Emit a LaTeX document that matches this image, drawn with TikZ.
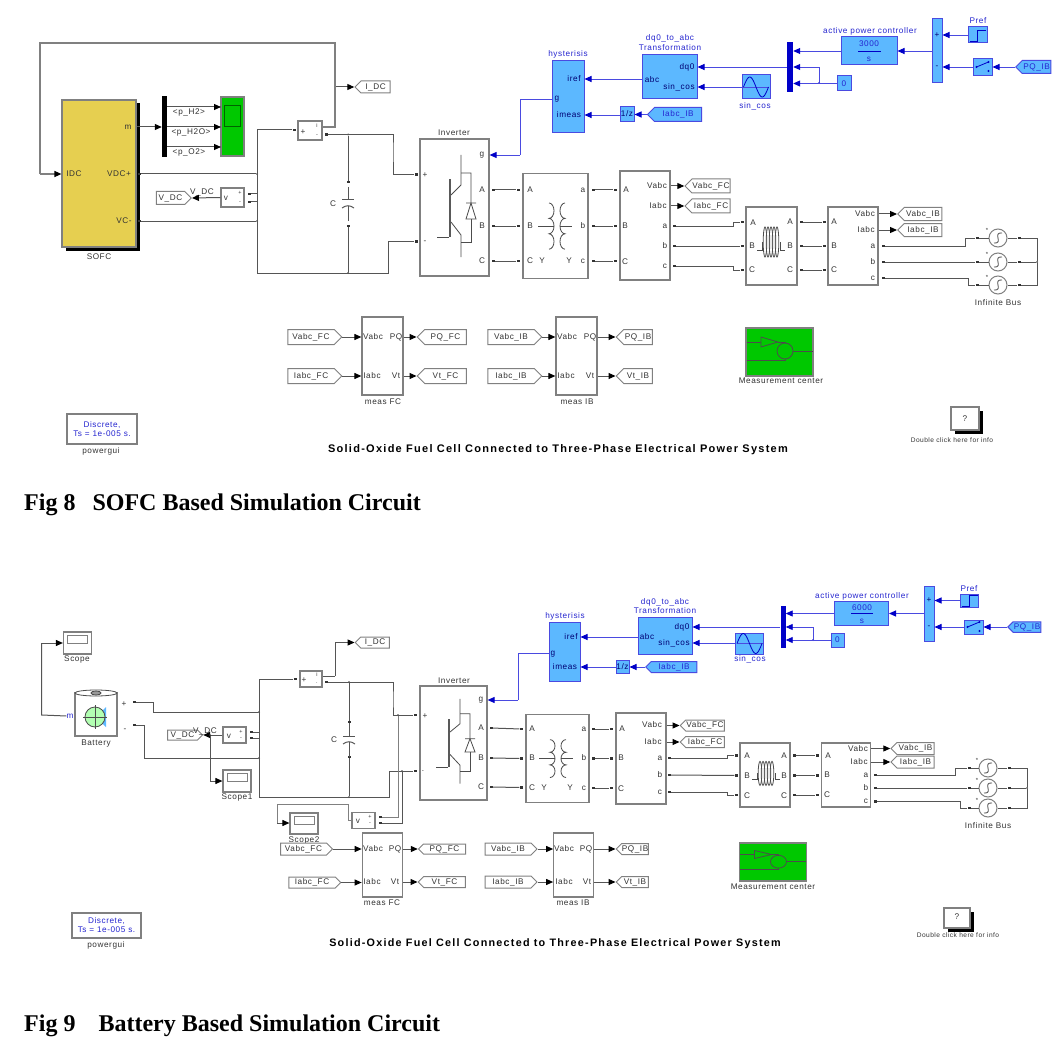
\documentclass[tikz,border=0pt]{standalone}
\usepackage{fontspec}
\newfontfamily\blockfont[LetterSpace=7]{Liberation Sans}
\newfontfamily\titlefont[LetterSpace=11.5]{Liberation Sans}
\newfontfamily\capfont{Liberation Serif}
\usetikzlibrary{arrows.meta,shapes.symbols,shadows}
\definecolor{wiregray}{HTML}{555555}
\definecolor{edgegray}{HTML}{808080}
\definecolor{simblue}{HTML}{5CB8FF}
\definecolor{blueline}{HTML}{4A4AE0}
\definecolor{bluetip}{HTML}{0000C8}
\definecolor{sofcyellow}{HTML}{E6CF50}
\definecolor{simgreen}{HTML}{00C800}
\tikzset{
	wh/.style 2 args={minimum width=#1pt,minimum height=#2pt,inner sep=0pt},
	lab/.style={font=\blockfont\fontsize{8.2}{9}\selectfont,inner sep=0pt,text=black!80},
	signlab/.style={lab,font=\blockfont\fontsize{5.5}{5.5}\selectfont},
	bluelab/.style={lab,text=bluetip!85},
	inlab/.style={lab,text=blue!45!black},
	block/.style={draw=edgegray,fill=white,line width=1.2pt},
	blueblock/.style={draw=blueline,fill=simblue,line width=1pt},
	shadowed/.style={drop shadow={shadow xshift=3.5pt,shadow yshift=-3.5pt,fill=black,opacity=1}},
	wire/.style={draw=wiregray,line width=1pt},
	icon/.style={draw=black!70,line width=0.8pt},
	sig/.style={wire,-{Triangle[length=7pt,width=6pt,color=black]}},
	bluewire/.style={draw=blueline,line width=0.9pt},
	bluesig/.style={bluewire,-{Triangle[length=7pt,width=6pt,color=bluetip]}},
	port/.style={fill=black!80,minimum width=3pt,minimum height=2.4pt,inner sep=0pt},
	dot/.style={circle,fill=black!80,minimum size=2pt,inner sep=0pt},
	tagl/.style={lab,signal,signal to=west,draw=edgegray,fill=white,line width=1pt},
	tagr/.style={lab,signal,signal to=east,draw=edgegray,fill=white,line width=1pt},
	bluetag/.style={bluelab,signal,signal to=west,draw=blueline,fill=simblue,line width=1pt},
	srcnode/.style={circle,draw=edgegray,fill=white,line width=1pt,minimum size=18pt,inner sep=0pt},
	notelab/.style={lab,font=\blockfont\fontsize{6.6}{8}\selectfont},
	titlelab/.style={lab,text=black,font=\titlefont\bfseries\fontsize{#1}{#1}\selectfont},
	captionlab/.style={anchor=west,inner sep=0pt,font=\capfont\bfseries\fontsize{24}{24}\selectfont},
}
\newcommand{\invicon}[2]{\begin{scope}[shift={(#1)},yscale=#2]
	\draw[icon] (7,-52) -- (7,-22) -- (-3,-12);
	\draw[icon] (-3,15) -- (7,28) -- (7,50);
	\draw[icon] (-17,30) -- (-5,30);
	\fill[black!65] (-5,-28) rectangle (-3,30);
	\draw[icon] (7,-34) -| (17,-4) -- (12,12) -- (22,12) -- (17,-4) -- (12,-4) -- (22,-4);
	\draw[icon] (17,12) |- (7,35);
\end{scope}}
\newcommand{\coilicon}[2]{\begin{scope}[shift={(#1)},yscale=#2]
	\draw[icon] (-6,-23) arc (90:-90:5pt and 7.7pt) arc (90:-90:5pt and 7.7pt) arc (90:-90:5pt and 7.7pt);
	\draw[icon] (10,-23) arc (90:270:5pt and 7.7pt) arc (90:270:5pt and 7.7pt) arc (90:270:5pt and 7.7pt);
	\draw[icon] (-17,0) -- (-1,0);
	\draw[icon] (5,0) -- (17,0);
\end{scope}}
\newcommand{\lineicon}[2]{\begin{scope}[shift={(#1)},yscale=#2]
	\foreach \i in {-6,-3,0,3,6} \draw[icon] (\i,-2) ellipse (1.8pt and 15pt);
	\draw[icon] (-9,-2) -- (-9,6) -- (-14,6);
	\draw[icon] (9,-2) -- (9,6) -- (14,6);
\end{scope}}
\newcommand{\capicon}[1]{\begin{scope}[shift={(#1)}]
	\draw[wire] (0,-17) -- (0,-4);
	\draw[wire] (-6,-4) -- (6,-4);
	\draw[wire] (-6,4) .. controls (-2,1) and (2,1) .. (6,4);
	\draw[wire] (0,2) -- (0,17);
\end{scope}}
\newcommand{\measicon}[2]{\begin{scope}[shift={(#1)},yscale=#2]
	\draw[icon] (-33,-10) -- (-18.5,-10);
	\draw[icon] (-18.5,-15) -- (-18.5,-5) -- (-1.5,-10) -- cycle;
	\draw[icon] (-1.5,-10) -- (5.5,-10) -- (5.5,-9);
	\draw[icon] (-33,8) -- (5.5,8) -- (5.5,7);
	\draw[icon] (5.5,-1) circle (8pt);
	\draw[icon] (13.5,-1) -- (33,-1);
\end{scope}}
\newcommand{\sineicon}[1]{\begin{scope}[shift={(#1)}]
	\draw[blueline,line width=0.8pt] (-13,0) -- (13,0);
	\draw[bluetip,line width=0.8pt,domain=0:360,samples=40,smooth] plot ({\x/360*25-12.5},{-10*sin(\x)});
\end{scope}}
\newcommand{\switchicon}[1]{\begin{scope}[shift={(#1)}]
	\draw[bluetip,line width=0.8pt] (-6,0) -- (6,-5);
	\fill[bluetip] (-6,0) circle (1.2pt) (6,-5) circle (1.2pt) (6,4) circle (1.2pt);
\end{scope}}
\newcommand{\stepicon}[1]{\begin{scope}[shift={(#1)}]
	\draw[bluetip,line width=0.8pt] (-8,6) -- (0,6) -- (0,-5) -- (8,-5);
\end{scope}}
\newcommand{\source}[2]{
	\node[srcnode] (#1) at (#2) {};
	\node[lab,font=\blockfont\fontsize{6}{6}\selectfont] (#1mark) at ([shift={(-11pt,8pt)}]#1.center) {*};
	\draw[icon] ([shift={(4pt,5pt)}]#1.center) .. controls +(-10pt,1pt) and +(10pt,-1pt) .. ([shift={(-4pt,-5pt)}]#1.center);
}
\begin{document}
\begin{tikzpicture}[x=1pt,y=-1pt]
	\useasboundingbox (0,0) rectangle (1061,1038);
	\fill[white] (0,0) rectangle (1061,1038);

	% Fig 8: fuel cell side
	\node[block,fill=sofcyellow,shadowed,wh={74}{147}] (sofc) at (99,173.5) {};
	\node[lab] (sofclab) at (99,257) {SOFC};
	\node[lab] (sofcidc) at (74,174) {IDC};
	\node[lab] (sofcm) at (128,127) {m};
	\node[lab] (sofcvp) at (119,174) {VDC+};
	\node[lab] (sofcvm) at (124,221) {VC-};
	\node[port] (pvp) at (139,174) {};
	\node[port] (pvm) at (139,221) {};
	\node[fill=black,wh={5}{61}] (bus) at (164.5,126.5) {};
	\node[block,fill=simgreen,wh={23}{59}] (fcscope) at (232.5,126.5) {};
	\node[draw=black!50!simgreen,line width=0.8pt,fill=simgreen,wh={16}{21}] (fcscopein) at (232.5,116) {};
	\coordinate (h2) at (221,107);
	\coordinate (h2o) at (221,127);
	\coordinate (o2) at (221,147);
	\node[lab] (h2lab) at (189,112) {<p\_H2>};
	\node[lab] (h2olab) at (191,132) {<p\_H2O>};
	\node[lab] (o2lab) at (189,152) {<p\_O2>};
	\draw[sig] (sofc.east |- sofcm) -- (bus.west |- sofcm);
	\draw[sig] (bus.east |- h2) -- (h2);
	\draw[sig] (bus.east |- h2o) -- (h2o);
	\draw[sig] (bus.east |- o2) -- (o2);

	\node[block,wh={24}{19}] (isense) at (310,130.5) {};
	\node[lab] (isenseplus) at (303,132) {+};
	\node[signlab] (isensei) at (317,125.5) {i};
	\node[signlab] (isenseminus) at (317,135.5) {-};
	\node[port] (ipin) at (294,130) {};
	\node[port] (iout) at (326,134.5) {};
	\node[tagl,wh={35}{12}] (idc) at (375.5,87) {I\_DC};
	\node[block,wh={23}{19}] (vsense) at (232.5,197.5) {};
	\node[lab] (vsensev) at (226,198) {v};
	\node[signlab] (vsenseplus) at (240,192.5) {+};
	\node[signlab] (vsenseminus) at (240,202.5) {-};
	\node[port] (vpin) at (249,194) {};
	\node[port] (vmin) at (249,202) {};
	\node[tagr,wh={35}{13}] (vdc) at (170.5,198) {V\_DC};
	\node[lab] (vdclab) at (202,192) {V\_DC};
	\draw[sig] (vsense.west) -- (vdc.east);
	\node[dot] (jvp) at (257,174) {};
	\node[dot] (jvm) at (257,221) {};
	\node[dot] (jitop) at (335,87) {};
	\coordinate (fbr) at (335,43);
	\coordinate (fbl) at (40,43);
	\coordinate (fbi) at (40,174);
	\coordinate (iup) at (322,127);
	\draw[wire,line width=1.2pt,draw=edgegray] (iup) -| (fbr) -- (fbl) -- (fbi);
	\draw[sig,draw=edgegray,line width=1.2pt] (fbi) -- (sofc.west |- fbi);
	\draw[sig] (jitop) -- (idc.west);
	\coordinate (bl) at (257,273);
	\coordinate (br) at (388,273);
	\coordinate (cr) at (393,150);
	\node[dot] (jc1) at (348,134.5) {};
	\node[dot] (jc2) at (348,273) {};
	\node[port] (ctop) at (348,182) {};
	\node[port] (cbot) at (348,226) {};
	\node[lab] (clab) at (333,204) {C};
	\capicon{348,204}
	\draw[wire] (jc1) -- (ctop);
	\draw[wire] (cbot) -- (jc2);

	% Fig 8: inverter to infinite bus
	\node[block,wh={69}{137}] (inv) at (454.5,207.5) {};
	\node[lab] (invlab) at (454,133) {Inverter};
	\node[lab] (invg) at (482,155) {g};
	\node[lab] (inva) at (482,190) {A};
	\node[lab] (invb) at (482,226) {B};
	\node[lab] (invc) at (482,261) {C};
	\node[lab] (invplus) at (425,175) {+};
	\node[lab] (invminus) at (425,242) {-};
	\node[port] (ppl) at (416,174.5) {};
	\node[port] (pmi) at (416,241.5) {};
	\invicon{454,207}{1}
	\draw[wire] (ipin) -| (bl) -- (br) |- (pmi);
	\draw[wire] (iout) -| (cr) |- (ppl);
	\draw[wire] (pvp) -- (jvp);
	\draw[wire] (pvm) -- (jvm);
	\draw[wire] (vpin) -- (vpin -| bl);
	\draw[wire] (vmin) -- (vmin -| bl);
	\node[port] (ioa) at (493,190) {};
	\node[port] (iob) at (493,226) {};
	\node[port] (ioc) at (493,261) {};

	\node[block,wh={65}{105}] (tf) at (555.5,226) {};
	\node[lab] (tfA) at (530,190) {A};
	\node[lab] (tfB) at (530,226) {B};
	\node[lab] (tfC) at (530,261) {C};
	\node[lab] (tfa) at (583,190) {a};
	\node[lab] (tfb) at (583,226) {b};
	\node[lab] (tfc) at (583,261) {c};
	\node[lab] (tfy1) at (542,261) {Y};
	\node[lab] (tfy2) at (569,261) {Y};
	\coilicon{555,226}{1}
	\node[port] (tiA) at (518,190) {};
	\node[port] (tiB) at (518,226) {};
	\node[port] (tiC) at (518,261) {};
	\node[port] (toa) at (593,190) {};
	\node[port] (tob) at (593,226) {};
	\node[port] (toc) at (593,261) {};
	\draw[wire] (ioa) -- (tiA);
	\draw[wire] (iob) -- (tiB);
	\draw[wire] (ioc) -- (tiC);

	\node[block,wh={50}{109}] (vi) at (645,225.5) {};
	\node[lab] (viA) at (626,190) {A};
	\node[lab] (viB) at (625,226) {B};
	\node[lab] (viC) at (625,262) {C};
	\node[lab] (viv) at (657,186) {Vabc};
	\node[lab] (vii) at (658,206) {Iabc};
	\node[lab] (via) at (665,226) {a};
	\node[lab] (vib) at (665,246) {b};
	\node[lab] (vic) at (665,266) {c};
	\node[port] (viinA) at (615,190) {};
	\node[port] (viinB) at (615,226) {};
	\node[port] (viinC) at (615,261) {};
	\node[port] (vioa) at (674,226) {};
	\node[port] (viob) at (674,246) {};
	\node[port] (vioc) at (674,266) {};
	\draw[wire] (toa) -- (viinA);
	\draw[wire] (tob) -- (viinB);
	\draw[wire] (toc) -- (viinC);
	\node[tagl,wh={45}{14}] (vfc) at (711,186) {Vabc\_FC};
	\node[tagl,wh={45}{14}] (ifc) at (711,206) {Iabc\_FC};
	\draw[sig] (vi.east |- vfc) -- (vfc.west);
	\draw[sig] (vi.east |- ifc) -- (ifc.west);

	\node[block,wh={51}{78}] (rl) at (771.5,246) {};
	\node[lab] (rlA1) at (753,223) {A};
	\node[lab] (rlB1) at (752,246) {B};
	\node[lab] (rlC1) at (752,270) {C};
	\node[lab] (rlA2) at (790,222) {A};
	\node[lab] (rlB2) at (790,246) {B};
	\node[lab] (rlC2) at (790,270) {C};
	\lineicon{771,244}{1}
	\node[port] (rliA) at (742,222) {};
	\node[port] (rliB) at (742,246) {};
	\node[port] (rliC) at (742,270) {};
	\node[port] (rloA) at (801,222) {};
	\node[port] (rloB) at (801,246) {};
	\node[port] (rloC) at (801,270) {};
	\coordinate (ka) at (733,226);
	\coordinate (kc) at (733,266);
	\draw[wire] (vioa) -- (ka) |- (rliA);
	\draw[wire] (viob) -- (rliB);
	\draw[wire] (vioc) -- (kc) |- (rliC);

	\node[block,wh={50}{78}] (vi2) at (853,246) {};
	\node[lab] (vi2A) at (834,222) {A};
	\node[lab] (vi2B) at (834,246) {B};
	\node[lab] (vi2C) at (834,270) {C};
	\node[lab] (vi2v) at (865,214) {Vabc};
	\node[lab] (vi2i) at (866,230) {Iabc};
	\node[lab] (vi2a) at (873,246) {a};
	\node[lab] (vi2b) at (873,262) {b};
	\node[lab] (vi2c) at (873,278) {c};
	\node[port] (vi2iA) at (824,222) {};
	\node[port] (vi2iB) at (824,246) {};
	\node[port] (vi2iC) at (824,270) {};
	\node[port] (vi2oa) at (883,246) {};
	\node[port] (vi2ob) at (883,262) {};
	\node[port] (vi2oc) at (883,278) {};
	\draw[wire] (rloA) -- (vi2iA);
	\draw[wire] (rloB) -- (vi2iB);
	\draw[wire] (rloC) -- (vi2iC);
	\node[tagl,wh={44}{13}] (vib8) at (923,214) {Vabc\_IB};
	\node[tagl,wh={44}{13}] (iib8) at (923,230) {Iabc\_IB};
	\draw[sig] (vi2.east |- vib8) -- (vib8.west);
	\draw[sig] (vi2.east |- iib8) -- (iib8.west);

	\source{srca}{998,238}
	\source{srcb}{998,262}
	\source{srcc}{998,285}
	\node[lab] (inflab) at (998,303) {Infinite Bus};
	\node[port] (sia) at (977,238) {};
	\node[port] (sib) at (977,262) {};
	\node[port] (sic) at (977,285) {};
	\node[port] (soa) at (1019,238) {};
	\node[port] (sob) at (1019,262) {};
	\node[port] (soc) at (1019,285) {};
	\draw[wire] (sia) -- (srca);
	\draw[wire] (sib) -- (srcb);
	\draw[wire] (sic) -- (srcc);
	\draw[wire] (srca) -- (soa);
	\draw[wire] (srcb) -- (sob);
	\draw[wire] (srcc) -- (soc);
	\node[dot] (star8) at (1037,262) {};
	\draw[wire] (soa) -| (star8) |- (soc);
	\draw[wire] (sob) -- (star8);
	\coordinate (kb) at (965,246);
	\coordinate (kd) at (968,278);
	\draw[wire] (vi2oa) -- (kb) |- (sia);
	\draw[wire] (vi2ob) -- (sib);
	\draw[wire] (vi2oc) -- (kd) |- (sic);

	% Fig 8: controller
	\node[blueblock,wh={32}{72}] (hys) at (568,97) {};
	\node[bluelab] (hyslab) at (568,54) {hysterisis};
	\node[inlab] (hysiref) at (574,79) {iref};
	\node[inlab] (hysg) at (557,99) {g};
	\node[inlab] (hysmeas) at (569,115) {imeas};
	\node[blueblock,wh={55}{44}] (dq) at (669.5,77) {};
	\node[bluelab] (dqlab1) at (670,38) {dq0\_to\_abc};
	\node[bluelab] (dqlab2) at (670,48) {Transformation};
	\node[inlab] (dqabc) at (652,80) {abc};
	\node[inlab] (dqd) at (687,67) {dq0};
	\node[inlab] (dqs) at (679,87) {sin\_cos};
	\node[blueblock,wh={28}{24}] (sine) at (756,87) {};
	\node[bluelab] (sinelab) at (755,106) {sin\_cos};
	\sineicon{756,87}
	\node[fill=bluetip,wh={6}{50}] (mux) at (790,67) {};
	\node[blueblock,wh={14}{15}] (zero) at (844,83.5) {};
	\node[bluelab] (zerolab) at (844,83.5) {0};
	\node[dot,fill=bluetip] (jzero) at (819,83) {};
	\coordinate (jmid) at (819,67);
	\node[blueblock,wh={56}{28}] (ctrl) at (869,51) {};
	\node[bluelab] (ctrlval) at (869,44) {3000};
	\node[bluelab] (ctrls) at (869,59) {s};
	\coordinate (ctrll) at (858,51);
	\coordinate (ctrlr) at (881,51);
	\draw[bluewire,draw=bluetip] (ctrll) -- (ctrlr);
	\node[bluelab] (ctrllab) at (870,31) {active power controller};
	\node[blueblock,fill=simblue,wh={10}{64}] (sum) at (937,51) {};
	\node[inlab] (sumplus) at (937,35) {+};
	\node[inlab] (summinus) at (937,67) {-};
	\node[blueblock,wh={19}{16}] (pref) at (977.5,35) {};
	\node[bluelab] (preflab) at (978,21) {Pref};
	\stepicon{977.5,35}
	\node[blueblock,wh={19}{17}] (sw) at (982.5,67) {};
	\switchicon{982.5,67}
	\node[bluetag,wh={35}{13}] (pqib8) at (1036.5,67) {PQ\_IB};
	\node[blueblock,wh={14}{15}] (zdelay) at (627,114) {};
	\node[inlab] (zlab) at (627,114) {1/z};
	\node[bluetag,wh={54}{14}] (iabc8) at (678,114.5) {Iabc\_IB};
	\draw[bluesig] (pqib8.west) -- (sw.east);
	\draw[bluesig] (sw.west) -- (sum.east |- sw);
	\draw[bluesig] (pref.west) -- (sum.east |- pref);
	\draw[bluesig] (sum.west) -- (ctrl.east);
	\draw[bluesig] (ctrl.west) -- (mux.east |- ctrl);
	\draw[bluesig] (zero.west) -- (mux.east |- zero);
	\draw[bluewire] (jzero) -- (jmid);
	\draw[bluesig] (jmid) -- (mux.east |- jmid);
	\draw[bluesig] (mux.west |- dqd) -- (dq.east |- dqd);
	\draw[bluesig] (sine.west |- dqs) -- (dq.east |- dqs);
	\draw[bluesig] (dq.west |- hysiref) -- (hys.east |- hysiref);
	\draw[bluesig] (iabc8.west) -- (zdelay.east |- iabc8);
	\draw[bluesig] (zdelay.west |- hysmeas) -- (hys.east |- hysmeas);
	\coordinate (gk8) at (520,155);
	\coordinate (gt8) at (520,99);
	\draw[bluewire] (hys.west |- hysg) -- (gt8) -- (gk8);
	\draw[bluesig] (gk8) -- (inv.east |- invg);

	% Fig 8: measurements and notes
	\node[block,wh={41}{78}] (measfc) at (382.5,356) {};
	\node[lab] (measfclab) at (383,402) {meas FC};
	\node[lab] (mfv) at (373,337) {Vabc};
	\node[lab] (mfi) at (372,376) {Iabc};
	\node[lab] (mfp) at (396,337) {PQ};
	\node[lab] (mft) at (396,376) {Vt};
	\node[tagr,wh={54}{15}] (tvfc) at (311,337) {Vabc\_FC};
	\node[tagr,wh={54}{15}] (tifc) at (311,376) {Iabc\_FC};
	\node[tagl,wh={49}{15}] (tpfc) at (445.5,337) {PQ\_FC};
	\node[tagl,wh={49}{15}] (tvtfc) at (445.5,376) {Vt\_FC};
	\draw[sig] (tvfc.east) -- (measfc.west |- tvfc);
	\draw[sig] (tifc.east) -- (measfc.west |- tifc);
	\draw[sig] (measfc.east |- tpfc) -- (tpfc.west);
	\draw[sig] (measfc.east |- tvtfc) -- (tvtfc.west);
	\node[block,wh={41}{78}] (measib) at (576.5,356) {};
	\node[lab] (measiblab) at (577,402) {meas IB};
	\node[lab] (miv) at (567,337) {Vabc};
	\node[lab] (mii) at (566,376) {Iabc};
	\node[lab] (mip) at (590,337) {PQ};
	\node[lab] (mit) at (590,376) {Vt};
	\node[tagr,wh={54}{15}] (tvib) at (511,337) {Vabc\_IB};
	\node[tagr,wh={54}{15}] (tiib) at (511,376) {Iabc\_IB};
	\node[tagl,wh={36}{15}] (tpib) at (638,337) {PQ\_IB};
	\node[tagl,wh={36}{15}] (tvtib) at (638,376) {Vt\_IB};
	\draw[sig] (tvib.east) -- (measib.west |- tvib);
	\draw[sig] (tiib.east) -- (measib.west |- tiib);
	\draw[sig] (measib.east |- tpib) -- (tpib.west);
	\draw[sig] (measib.east |- tvtib) -- (tvtib.west);
	\node[block,fill=simgreen,wh={67}{48}] (center8) at (779.5,352) {};
	\measicon{779.5,352}{1}
	\node[lab] (center8lab) at (781,381) {Measurement center};
	\node[block,wh={70}{30}] (gui8) at (102,429) {};
	\node[bluelab,align=center] (gui8txt) at (102,429) {Discrete,\\Ts = 1e-005 s.};
	\node[lab] (gui8lab) at (101,451) {powergui};
	\node[block,shadowed,wh={28}{23}] (help8) at (965,418.5) {};
	\node[lab] (help8q) at (965,418.5) {?};
	\node[notelab] (help8lab) at (952,440) {Double click here for info};
	\node[titlelab=11] (title8) at (558,449.5) {Solid-Oxide Fuel Cell Connected to Three-Phase Electrical Power System};
	\node[captionlab] (cap8) at (24,505) {Fig 8\hspace{17pt}SOFC Based Simulation Circuit};

	% Fig 9: battery side
	\node[block,wh={28}{22}] (scope) at (77.5,643) {};
	\node[draw=edgegray,fill=white,line width=0.8pt,wh={20}{8}] (scopein) at (77,639.5) {};
	\node[lab] (scopelab) at (77,659) {Scope};
	\node[block,wh={42}{43}] (batt) at (96,714.5) {};
	\draw[icon,fill=white] (96,693) ellipse (21pt and 3pt);
	\draw[icon,fill=black!40] (96,693) ellipse (5pt and 2pt);
	\fill[simblue] (96,717) -- (106,707) -- (106,727) -- cycle;
	\draw[icon,fill=green!30!white] (95,717) circle (10pt);
	\draw[icon] (83,717) -- (107,717) (95,705) -- (95,729);
	\node[lab] (battlab) at (96,744) {Battery};
	\node[bluelab] (battm) at (70,716) {m};
	\node[lab] (battp) at (124,704) {+};
	\node[lab] (battn) at (125,730) {-};
	\node[port] (pbp) at (134,702) {};
	\node[port] (pbn) at (134,725) {};
	\coordinate (scpk1) at (41.5,715);
	\coordinate (scpk2) at (41.5,643);
	\draw[wire] (battm.west) -- (scpk1) -- (scpk2);
	\draw[sig] (scpk2) -- (scope.west);
	\node[block,wh={22}{16}] (isense9) at (311,679) {};
	\node[lab] (isense9plus) at (304,680) {+};
	\node[signlab] (isense9i) at (317,675) {i};
	\node[signlab] (isense9minus) at (317,683) {.};
	\node[port] (ipin9) at (295,679) {};
	\node[port] (iout9) at (326,682) {};
	\node[tagl,wh={34}{11}] (idc9) at (375,642.5) {I\_DC};
	\coordinate (ik9) at (335,676);
	\draw[wire] (isense9.east |- ik9) -- (ik9);
	\draw[sig] (ik9) |- (idc9.west);
	\node[block,wh={23}{16}] (vsense9) at (234.5,735) {};
	\node[lab] (vsense9v) at (229,736) {v};
	\node[signlab] (vsense9plus) at (241,731.5) {+};
	\node[signlab] (vsense9minus) at (241,739) {-};
	\node[port] (vp9) at (251,732) {};
	\node[port] (vm9) at (251,738) {};
	\node[tagr,wh={35}{10}] (vdc9) at (182.5,735) {V\_DC};
	\node[lab] (vdc9lab) at (205,731) {V\_DC};
	\draw[sig] (vsense9.west) -- (vdc9.east);
	\node[block,wh={28}{22}] (scope1) at (237,781) {};
	\node[draw=edgegray,fill=white,line width=0.8pt,wh={20}{8}] (scope1in) at (237,777.5) {};
	\node[lab] (scope1lab) at (237,797) {Scope1};
	\node[dot] (jv9) at (210,735) {};
	\draw[sig] (jv9) |- (scope1.west);
	\node[block,wh={28}{21}] (scope2) at (304,823.5) {};
	\node[draw=edgegray,fill=white,line width=0.8pt,wh={20}{8}] (scope2in) at (304,820) {};
	\node[lab] (scope2lab) at (304,840) {Scope2};
	\node[block,wh={23}{16}] (vsense2) at (363.5,820.5) {};
	\node[lab] (vsense2v) at (358,821) {v};
	\node[signlab] (vsense2plus) at (370,816.5) {+};
	\node[signlab] (vsense2minus) at (370,824) {-};
	\node[port] (v2p) at (380,817) {};
	\node[port] (v2m) at (380,823) {};
	\coordinate (s2a) at (348,820);
	\coordinate (s2b) at (348,804);
	\coordinate (s2c) at (277,804);
	\coordinate (s2d) at (277,823);
	\draw[wire,draw=edgegray] (vsense2.west |- s2a) -- (s2a) -- (s2b) -- (s2c) -- (s2d);
	\draw[sig] (s2d) -- (scope2.west |- s2d);
	\coordinate (bus9top) at (259,679);
	\coordinate (bus9bot) at (259,797);
	\node[dot] (j9p) at (259,712) {};
	\node[dot] (j9m) at (259,758) {};
	\node[dot] (j9c1) at (349,682) {};
	\node[dot] (j9c2) at (349,797) {};
	\node[port] (c9top) at (349,722) {};
	\node[port] (c9bot) at (349,757) {};
	\node[lab] (c9lab) at (334,740) {C};
	\capicon{349,740}
	\draw[wire] (j9c1) -- (c9top);
	\draw[wire] (c9bot) -- (j9c2);
	\coordinate (k9p) at (153,702);
	\coordinate (k9m) at (144,725);
	\draw[wire] (pbp) -- (k9p) |- (j9p);
	\draw[wire] (pbn) -- (k9m) |- (j9m);
	\draw[wire] (vp9) -- (vp9 -| bus9top);
	\draw[wire] (vm9) -- (vm9 -| bus9top);

	% Fig 9: inverter to infinite bus
	\node[block,wh={67}{114}] (inv9) at (453.5,743) {};
	\node[lab] (inv9lab) at (454,681) {Inverter};
	\node[lab] (inv9g) at (481,700) {g};
	\node[lab] (inv9a) at (481,728) {A};
	\node[lab] (inv9b) at (481,758) {B};
	\node[lab] (inv9c) at (481,787) {C};
	\node[lab] (inv9plus) at (425,716) {+};
	\node[lab] (inv9minus) at (423,771) {.};
	\node[port] (pl9) at (415,715) {};
	\node[port] (mi9) at (415,771) {};
	\invicon{453,742}{0.83}
	\coordinate (k9r) at (393,700);
	\coordinate (k9b) at (389,797);
	\node[dot] (j9r) at (398,715) {};
	\node[dot] (j9l) at (402,771) {};
	\draw[wire] (ipin9) -| (bus9bot) -- (k9b) |- (mi9);
	\draw[wire] (iout9) -| (k9r) |- (pl9);
	\draw[wire,draw=edgegray] (j9r) |- (v2p);
	\draw[wire] (j9l) |- (v2m);
	\node[port] (io9a) at (491,728) {};
	\node[port] (io9b) at (491,758) {};
	\node[port] (io9c) at (491,787) {};

	\node[block,wh={63}{88}] (tf9) at (557.5,758.5) {};
	\node[lab] (tf9A) at (532,729) {A};
	\node[lab] (tf9B) at (532,758) {B};
	\node[lab] (tf9C) at (532,788) {C};
	\node[lab] (tf9a) at (584,729) {a};
	\node[lab] (tf9b) at (584,758) {b};
	\node[lab] (tf9c) at (584,788) {c};
	\node[lab] (tf9y1) at (544,788) {Y};
	\node[lab] (tf9y2) at (570,788) {Y};
	\coilicon{556,758.5}{0.82}
	\node[port] (ti9A) at (521,729) {};
	\node[port] (ti9B) at (521,758.5) {};
	\node[port] (ti9C) at (521,787.5) {};
	\node[port] (to9a) at (593,729) {};
	\node[port] (to9b) at (593,758.5) {};
	\node[port] (to9c) at (593,788) {};
	\draw[wire] (io9a) -- (ti9A);
	\draw[wire] (io9b) -- (ti9B);
	\draw[wire] (io9c) -- (ti9C);

	\node[block,wh={50}{91}] (vi9) at (641,758.5) {};
	\node[lab] (vi9A) at (622,729) {A};
	\node[lab] (vi9B) at (621,758) {B};
	\node[lab] (vi9C) at (621,789) {C};
	\node[lab] (vi9v) at (652,725) {Vabc};
	\node[lab] (vi9i) at (653,742) {Iabc};
	\node[lab] (vi9a) at (660,758) {a};
	\node[lab] (vi9b) at (660,775) {b};
	\node[lab] (vi9c) at (660,792) {c};
	\node[port] (vi9iA) at (611,729) {};
	\node[port] (vi9iB) at (611,758.5) {};
	\node[port] (vi9iC) at (611,788) {};
	\node[port] (vi9oa) at (669,758) {};
	\node[port] (vi9ob) at (669,775) {};
	\node[port] (vi9oc) at (669,792) {};
	\draw[wire] (to9a) -- (vi9iA);
	\draw[wire] (to9b) -- (vi9iB);
	\draw[wire] (to9c) -- (vi9iC);
	\node[tagl,wh={44}{11}] (vfc9) at (705,725.5) {Vabc\_FC};
	\node[tagl,wh={44}{11}] (ifc9) at (705,742) {Iabc\_FC};
	\draw[sig] (vi9.east |- vfc9) -- (vfc9.west);
	\draw[sig] (vi9.east |- ifc9) -- (ifc9.west);

	\node[block,wh={50}{64}] (rl9) at (765,775) {};
	\node[lab] (rl9A1) at (747,756) {A};
	\node[lab] (rl9B1) at (747,776) {B};
	\node[lab] (rl9C1) at (747,796) {C};
	\node[lab] (rl9A2) at (784,756) {A};
	\node[lab] (rl9B2) at (784,776) {B};
	\node[lab] (rl9C2) at (784,796) {C};
	\lineicon{766,775}{0.8}
	\node[port] (rl9iA) at (736,755.5) {};
	\node[port] (rl9iB) at (736,775.5) {};
	\node[port] (rl9iC) at (736,795) {};
	\node[port] (rl9oA) at (794,755.5) {};
	\node[port] (rl9oB) at (794,775.5) {};
	\node[port] (rl9oC) at (794,795) {};
	\coordinate (ka9) at (727,758);
	\coordinate (kc9) at (727,792);
	\draw[wire] (vi9oa) -- (ka9) |- (rl9iA);
	\draw[wire] (vi9ob) -- (rl9iB);
	\draw[wire] (vi9oc) -- (kc9) |- (rl9iC);

	\node[block,wh={49.5}{64}] (vi29) at (846,775) {};
	\node[lab] (vi29A) at (828,756) {A};
	\node[lab] (vi29B) at (827,775) {B};
	\node[lab] (vi29C) at (827,795) {C};
	\node[lab] (vi29v) at (858,748.5) {Vabc};
	\node[lab] (vi29i) at (859,762) {Iabc};
	\node[lab] (vi29a) at (866,775) {a};
	\node[lab] (vi29b) at (866,788) {b};
	\node[lab] (vi29c) at (866,801.5) {c};
	\node[port] (vi29iA) at (817,755.5) {};
	\node[port] (vi29iB) at (817,775.5) {};
	\node[port] (vi29iC) at (817,795) {};
	\node[port] (vi29oa) at (875,775) {};
	\node[port] (vi29ob) at (875,788) {};
	\node[port] (vi29oc) at (875,801.5) {};
	\draw[wire] (rl9oA) -- (vi29iA);
	\draw[wire] (rl9oB) -- (vi29iB);
	\draw[wire] (rl9oC) -- (vi29iC);
	\node[tagl,wh={43}{12}] (vib9) at (915.5,748.5) {Vabc\_IB};
	\node[tagl,wh={43}{12}] (iib9) at (915.5,762) {Iabc\_IB};
	\draw[sig] (vi29.east |- vib9) -- (vib9.west);
	\draw[sig] (vi29.east |- iib9) -- (iib9.west);

	\source{src9a}{988,768}
	\source{src9b}{988,788}
	\source{src9c}{988,808}
	\node[lab] (inf9lab) at (988,826) {Infinite Bus};
	\node[port] (si9a) at (969,768) {};
	\node[port] (si9b) at (969,788) {};
	\node[port] (si9c) at (969,808) {};
	\node[port] (so9a) at (1009,768) {};
	\node[port] (so9b) at (1009,788) {};
	\node[port] (so9c) at (1009,808) {};
	\draw[wire] (si9a) -- (src9a);
	\draw[wire] (si9b) -- (src9b);
	\draw[wire] (si9c) -- (src9c);
	\draw[wire] (src9a) -- (so9a);
	\draw[wire] (src9b) -- (so9b);
	\draw[wire] (src9c) -- (so9c);
	\node[dot] (star9) at (1027,788) {};
	\draw[wire] (so9a) -| (star9) |- (so9c);
	\draw[wire] (so9b) -- (star9);
	\coordinate (kb9) at (955,775);
	\coordinate (kd9) at (960.5,801.5);
	\draw[wire] (vi29oa) -- (kb9) |- (si9a);
	\draw[wire] (vi29ob) -- (si9b);
	\draw[wire] (vi29oc) -- (kd9) |- (si9c);

	% Fig 9: controller
	\node[blueblock,wh={31}{59}] (hys9) at (564.5,651.5) {};
	\node[bluelab] (hys9lab) at (565,616) {hysterisis};
	\node[inlab] (hys9iref) at (571,637) {iref};
	\node[inlab] (hys9g) at (553,654) {g};
	\node[inlab] (hys9meas) at (565,667) {imeas};
	\node[blueblock,wh={54}{37}] (dq9) at (665,635.5) {};
	\node[bluelab] (dq9lab1) at (665,602) {dq0\_to\_abc};
	\node[bluelab] (dq9lab2) at (665,611) {Transformation};
	\node[inlab] (dq9abc) at (647,637) {abc};
	\node[inlab] (dq9d) at (682,627) {dq0};
	\node[inlab] (dq9s) at (674,643) {sin\_cos};
	\node[blueblock,wh={28}{21}] (sine9) at (749.5,643.5) {};
	\node[bluelab] (sine9lab) at (750,659) {sin\_cos};
	\sineicon{749.5,643.5}
	\node[fill=bluetip,wh={5}{42}] (mux9) at (783,627) {};
	\node[blueblock,wh={13}{14}] (zero9) at (837.5,640) {};
	\node[bluelab] (zero9lab) at (837.5,640) {0};
	\node[dot,fill=bluetip] (jzero9) at (813,640) {};
	\coordinate (jmid9) at (813,627);
	\node[blueblock,wh={54}{24}] (ctrl9) at (861.5,613.5) {};
	\node[bluelab] (ctrl9val) at (862,608) {6000};
	\node[bluelab] (ctrl9s) at (862,621) {s};
	\coordinate (ctrl9l) at (851,613.5);
	\coordinate (ctrl9r) at (873,613.5);
	\draw[bluewire,draw=bluetip] (ctrl9l) -- (ctrl9r);
	\node[bluelab] (ctrl9lab) at (862,596) {active power controller};
	\node[blueblock,wh={10}{55}] (sum9) at (929,613.5) {};
	\node[inlab] (sum9plus) at (929,600.5) {+};
	\node[inlab] (sum9minus) at (929,627) {-};
	\node[blueblock,wh={17.5}{13}] (pref9) at (969.5,600.5) {};
	\node[bluelab] (pref9lab) at (969,589) {Pref};
	\stepicon{969.5,600.5}
	\node[blueblock,wh={19}{14}] (sw9) at (973.5,627) {};
	\switchicon{973.5,627}
	\node[bluetag,wh={33}{10.5}] (pqib9) at (1027,627) {PQ\_IB};
	\node[blueblock,wh={13}{13}] (zdelay9) at (622.5,666.5) {};
	\node[inlab] (z9lab) at (622.5,666.5) {1/z};
	\node[bluetag,wh={51}{11}] (iabc9) at (674,667) {Iabc\_IB};
	\draw[bluesig] (pqib9.west) -- (sw9.east);
	\draw[bluesig] (sw9.west) -- (sum9.east |- sw9);
	\draw[bluesig] (pref9.west) -- (sum9.east |- pref9);
	\draw[bluesig] (sum9.west) -- (ctrl9.east);
	\draw[bluesig] (ctrl9.west) -- (mux9.east |- ctrl9);
	\draw[bluesig] (zero9.west) -- (mux9.east |- zero9);
	\draw[bluewire] (jzero9) -- (jmid9);
	\draw[bluesig] (jmid9) -- (mux9.east |- jmid9);
	\draw[bluesig] (mux9.west |- dq9d) -- (dq9.east |- dq9d);
	\draw[bluesig] (sine9.west |- dq9s) -- (dq9.east |- dq9s);
	\draw[bluesig] (dq9.west |- hys9iref) -- (hys9.east |- hys9iref);
	\draw[bluesig] (iabc9.west) -- (zdelay9.east |- iabc9);
	\draw[bluesig] (zdelay9.west |- hys9meas) -- (hys9.east |- hys9meas);
	\coordinate (gk9) at (518,700);
	\coordinate (gt9) at (518,653);
	\draw[bluewire] (hys9.west |- gt9) -- (gt9) -- (gk9);
	\draw[bluesig] (gk9) -- (inv9.east |- inv9g);

	% Fig 9: measurements and notes
	\node[block,wh={40.5}{64}] (measfc9) at (382.5,865) {};
	\node[lab] (measfc9lab) at (382,903) {meas FC};
	\node[lab] (mf9v) at (373,849) {Vabc};
	\node[lab] (mf9i) at (372,882) {Iabc};
	\node[lab] (mf9p) at (395,849) {PQ};
	\node[lab] (mf9t) at (395,882) {Vt};
	\node[tagr,wh={52}{12}] (tv9fc) at (303.5,849) {Vabc\_FC};
	\node[tagr,wh={52}{11}] (ti9fc) at (312,882.5) {Iabc\_FC};
	\node[tagl,wh={47}{10}] (tp9fc) at (444.5,849) {PQ\_FC};
	\node[tagl,wh={47}{11}] (tvt9fc) at (444.5,882) {Vt\_FC};
	\draw[sig] (tv9fc.east) -- (measfc9.west |- tv9fc);
	\draw[sig] (ti9fc.east) -- (measfc9.west |- ti9fc);
	\draw[sig] (measfc9.east |- tp9fc) -- (tp9fc.west);
	\draw[sig] (measfc9.east |- tvt9fc) -- (tvt9fc.west);
	\node[block,wh={39.5}{64}] (measib9) at (573.5,865) {};
	\node[lab] (measib9lab) at (573,903) {meas IB};
	\node[lab] (mi9v) at (564,849) {Vabc};
	\node[lab] (mi9i) at (564,882) {Iabc};
	\node[lab] (mi9p) at (586,849) {PQ};
	\node[lab] (mi9t) at (587,882) {Vt};
	\node[tagr,wh={52}{12}] (tv9ib) at (508,849) {Vabc\_IB};
	\node[tagr,wh={52}{12}] (ti9ib) at (508,882) {Iabc\_IB};
	\node[tagl,wh={32}{11}] (tp9ib) at (635,849) {PQ\_IB};
	\node[tagl,wh={32}{11}] (tvt9ib) at (635,882) {Vt\_IB};
	\draw[sig] (tv9ib.east) -- (measib9.west |- tv9ib);
	\draw[sig] (ti9ib.east) -- (measib9.west |- ti9ib);
	\draw[sig] (measib9.east |- tp9ib) -- (tp9ib.west);
	\draw[sig] (measib9.east |- tvt9ib) -- (tvt9ib.west);
	\node[block,fill=simgreen,wh={66.5}{38}] (center9) at (773,862) {};
	\measicon{773,862.5}{0.8}
	\node[lab] (center9lab) at (773,887) {Measurement center};
	\node[block,wh={69}{25}] (gui9) at (106.5,925.5) {};
	\node[bluelab,align=center] (gui9txt) at (106.5,925.5) {Discrete,\\Ts = 1e-005 s.};
	\node[lab] (gui9lab) at (106,945) {powergui};
	\node[block,shadowed,wh={26}{20}] (help9) at (957,918) {};
	\node[lab] (help9q) at (957,917) {?};
	\node[notelab] (help9lab) at (958,935) {Double click here for info};
	\node[titlelab=10.8] (title9) at (555,943.5) {Solid-Oxide Fuel Cell Connected to Three-Phase Electrical Power System};
	\node[captionlab] (cap9) at (24,1026) {Fig 9\hspace{23pt}Battery Based Simulation Circuit};
\end{tikzpicture}
\end{document}
